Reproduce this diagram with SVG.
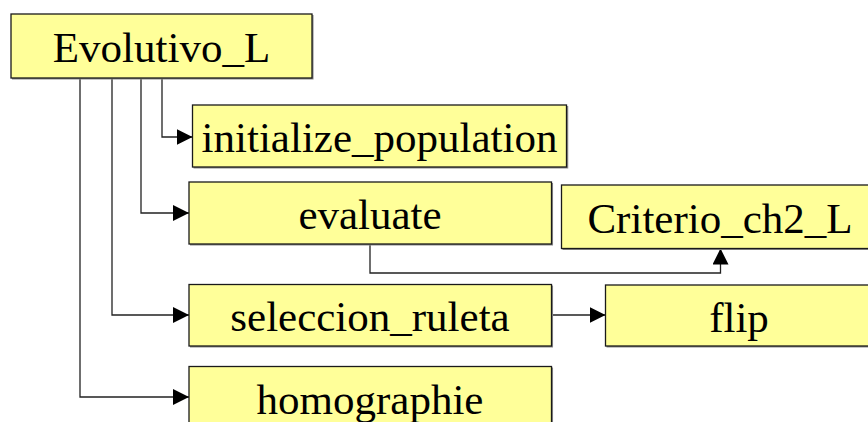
<svg xmlns="http://www.w3.org/2000/svg" width="868" height="422" viewBox="0 0 868 422">
  <style>
    .box { fill: #ffff99; stroke: #1a1a1a; stroke-width: 1.3; }
    .shadow { fill: none; stroke: #8a8a8a; stroke-width: 1.5; }
    .label { font-family: "Liberation Serif", "Times New Roman", serif; font-size: 43px; fill: #000; text-anchor: middle; }
    .edge { fill: none; stroke: #222; stroke-width: 1.3; marker-end: url(#arrow); }
    .plain { fill: none; stroke: #222; stroke-width: 1.3; }
  </style>
  <defs>
    <marker id="arrow" viewBox="0 0 16 16" refX="16" refY="8" markerWidth="16" markerHeight="16" markerUnits="userSpaceOnUse" orient="auto">
      <path d="M0,0 L16,8 L0,16 z" fill="#000"/>
    </marker>
  </defs>
  <rect width="868" height="422" fill="#ffffff"/>

  <!-- connectors -->
  <g id="connectors">
    <path class="edge" d="M162,78 V137 H192.5"/>
    <path class="edge" d="M141,78 V213 H189"/>
    <path class="edge" d="M112,78 V315 H189"/>
    <path class="edge" d="M80,78 V397 H189"/>
    <path class="edge" d="M370,244 V273 H720.5 V248.5"/>
    <path class="edge" d="M551.5,315 H605.5"/>
  </g>

  <!-- nodes -->
  <g id="evolutivo_l">
    <path class="shadow" d="M312.8,15 V78.8 H12"/>
    <rect class="box" x="11" y="14" width="301" height="64"/>
    <text class="label" x="161.5" y="62">Evolutivo_L</text>
  </g>
  <g id="initialize_population">
    <path class="shadow" d="M567.5,106 V167.8 H193.5"/>
    <rect class="box" x="192.5" y="105" width="374" height="62"/>
    <text class="label" x="379.5" y="152">initialize_population</text>
  </g>
  <g id="evaluate">
    <path class="shadow" d="M552.3,183 V244.8 H190"/>
    <rect class="box" x="189" y="182" width="362.5" height="62"/>
    <text class="label" x="370" y="229">evaluate</text>
  </g>
  <g id="criterio_ch2_l">
    <path class="shadow" d="M879,186 V249.3 H562.5"/>
    <rect class="box" x="561.5" y="185" width="317" height="63.5"/>
    <text class="label" x="720" y="232.5">Criterio_ch2_L</text>
  </g>
  <g id="seleccion_ruleta">
    <path class="shadow" d="M552.3,285.5 V346.8 H190"/>
    <rect class="box" x="189" y="284.5" width="362.5" height="61.5"/>
    <text class="label" x="370" y="331">seleccion_ruleta</text>
  </g>
  <g id="flip">
    <path class="shadow" d="M873.3,286 V346.8 H606.5"/>
    <rect class="box" x="605.5" y="285" width="267" height="61"/>
    <text class="label" x="739" y="331.5">flip</text>
  </g>
  <g id="homographie">
    <path class="shadow" d="M552.3,367.5 V429.3 H190"/>
    <rect class="box" x="189" y="366.5" width="362.5" height="62"/>
    <text class="label" x="370" y="413.5">homographie</text>
  </g>
</svg>
